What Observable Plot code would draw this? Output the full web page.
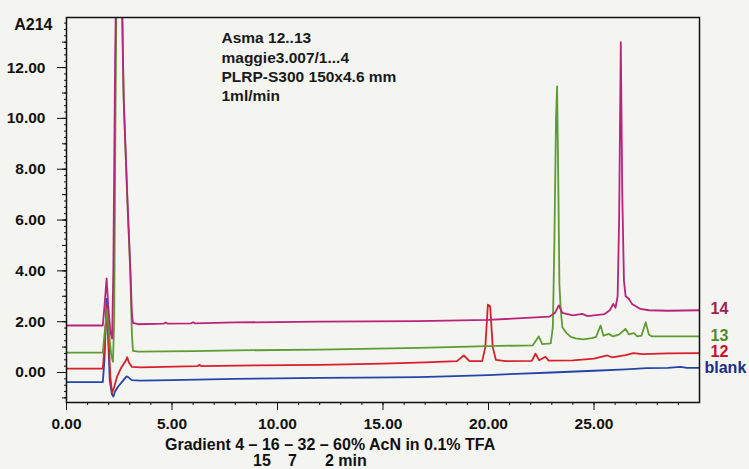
<!DOCTYPE html>
<html><head><meta charset="utf-8">
<script src="https://cdn.jsdelivr.net/npm/d3@7"></script>
<script src="https://cdn.jsdelivr.net/npm/@observablehq/plot@0.6"></script>
<style>
html,body{margin:0;padding:0;background:#f4f4f0;}
#wrap{width:749px;height:469px;position:relative;font-family:"Liberation Sans",Arial,sans-serif;font-weight:bold;color:#111;overflow:hidden;}
.cap{position:absolute;font-size:16px;line-height:15px;white-space:pre;}
#chart g[aria-label="x-axis tick label"], #chart g[aria-label="y-axis tick label"]{font-size:15.5px;font-weight:bold;}
</style></head><body>
<div id="wrap"><div id="chart"></div>
<div class="cap" style="left:165px;top:437px">Gradient 4 – 16 – 32 – 60% AcN in 0.1% TFA</div>
<div class="cap" style="left:253px;top:453px">15</div>
<div class="cap" style="left:288px;top:453px">7</div>
<div class="cap" style="left:325px;top:453px">2 min</div>
</div>
<script>
const names = ["blank", "12", "13", "14"];
const lineColors = ["#2444a8", "#d6202a", "#5e9c32", "#b8237c"];
const labelColors = ["#1a2d85", "#c8102e", "#4f8a2b", "#9e1f55"];
const yTicks = [0, 2, 4, 6, 8, 10, 12];
const xTicks = [0, 5, 10, 15, 20, 25];
const titleText = "A214";
const noteText = "Asma 12..13\nmaggie3.007/1...4\nPLRP-S300 150x4.6 mm\n1ml/min";

const blank = [[0,-0.38],[1.72,-0.38],[1.8,0.5],[1.9,2.9],[1.97,1.5],[2.05,-0.3],[2.15,-0.85],[2.22,-0.95],[2.3,-0.75],[2.45,-0.55],[2.65,-0.35],[2.85,-0.15],[2.95,-0.2],[3.1,-0.3],[3.5,-0.32],[5,-0.3],[8,-0.25],[10,-0.23],[12,-0.21],[14,-0.2],[16.7,-0.18],[18,-0.15],[20,-0.1],[21.3,-0.05],[23,0.0],[25,0.07],[26.5,0.12],[27.5,0.17],[28.5,0.18],[29.1,0.22],[29.4,0.18],[30,0.18]];
const s12 = [[0,0.15],[1.72,0.15],[1.8,1.0],[1.92,2.6],[2.0,1.2],[2.08,-0.2],[2.16,-0.8],[2.25,-0.6],[2.4,-0.15],[2.6,0.2],[2.8,0.45],[2.88,0.6],[2.95,0.4],[3.1,0.22],[3.5,0.2],[6.2,0.25],[6.3,0.3],[6.4,0.25],[9,0.28],[12,0.3],[15,0.35],[17,0.4],[18.5,0.45],[18.83,0.67],[19.1,0.45],[19.7,0.45],[19.85,1.0],[19.97,2.67],[20.08,2.6],[20.2,1.0],[20.35,0.5],[20.8,0.45],[22.05,0.46],[22.23,0.74],[22.4,0.48],[22.7,0.62],[22.85,0.47],[24,0.48],[25,0.55],[25.63,0.67],[25.85,0.6],[26.5,0.68],[26.87,0.76],[27.3,0.72],[28.5,0.75],[30,0.76]];
const s13 = [[0,0.78],[1.72,0.78],[1.8,1.5],[1.93,2.5],[2.02,1.5],[2.12,0.7],[2.2,0.42],[2.26,2],[2.32,10],[2.38,16],[2.62,16],[2.7,11],[2.88,6.8],[3.02,4.0],[3.1,1.5],[3.15,0.85],[3.4,0.82],[6,0.84],[8,0.87],[12,0.9],[16.7,0.97],[20,1.04],[22.1,1.07],[22.38,1.42],[22.55,1.12],[22.95,1.15],[23.05,1.8],[23.12,5],[23.2,10],[23.25,11.26],[23.3,8],[23.36,3.5],[23.42,2.5],[23.5,1.78],[23.7,1.55],[23.9,1.4],[24.13,1.34],[24.5,1.3],[24.9,1.35],[25.1,1.4],[25.31,1.85],[25.45,1.45],[25.7,1.52],[25.9,1.42],[26.2,1.5],[26.49,1.72],[26.65,1.5],[26.89,1.55],[27.05,1.42],[27.25,1.45],[27.45,1.98],[27.6,1.5],[27.75,1.42],[30,1.42]];
const s14 = [[0,1.85],[1.72,1.85],[1.8,2.6],[1.9,3.7],[1.98,2.6],[2.08,1.6],[2.16,1.34],[2.22,4],[2.3,12],[2.36,16],[2.6,16],[2.66,13],[2.72,10.5],[2.89,6.8],[3.03,4.0],[3.1,2.3],[3.15,1.95],[3.4,1.9],[4.6,1.92],[4.7,1.97],[4.8,1.92],[5.9,1.93],[6.0,1.98],[6.1,1.93],[8,1.97],[12,2.0],[16.7,2.02],[20,2.07],[22.9,2.2],[23.15,2.35],[23.33,2.64],[23.5,2.35],[24,2.25],[24.44,2.31],[24.7,2.22],[25.5,2.3],[25.75,2.45],[25.91,2.7],[26.02,2.55],[26.12,3.0],[26.19,6],[26.27,13.0],[26.34,7],[26.42,3.6],[26.5,3.0],[26.65,2.9],[26.8,2.7],[27.2,2.5],[27.6,2.45],[28.5,2.43],[30,2.45]];

const seriesData = [blank, s12, s13, s14];
const table = seriesData.flatMap((s, i) => s.map(([t, v]) => ({name: names[i], t, v})));
const labelColor = new Map(names.map((n, i) => [n, labelColors[i]]));
const fmt = d => d.toFixed(2);

const chart = Plot.plot({
  width: 749, height: 432,
  marginLeft: 66, marginTop: 17, marginRight: 50, marginBottom: 30,
  style: {fontFamily: '"Liberation Sans", Arial, sans-serif', fontSize: "15px", fontWeight: "bold", background: "#f4f4f0", color: "#111"},
  x: {domain: [0, 30]},
  y: {domain: [-1.18, 13.97]},
  color: {domain: names, range: lineColors},
  marks: [
    Plot.line(table, {x: "t", y: "v", z: "name", stroke: "name", strokeWidth: 1.8, clip: true}),
    Plot.axisX({ticks: d3.range(0, 30, 1), tickSize: 3, text: null, label: null}),
    Plot.axisX({ticks: xTicks, tickFormat: fmt, tickSize: 8, tickPadding: 7, fontSize: 15.5, label: null}),
    Plot.axisY({ticks: d3.range(-1, 14, 0.25), tickSize: 2, text: null, label: null}),
    Plot.axisY({ticks: d3.range(-1, 14, 1), tickSize: 4, text: null, label: null}),
    Plot.axisY({ticks: yTicks, tickFormat: fmt, tickSize: 9, tickPadding: 12, fontSize: 15.5, label: null}),
    Plot.frame({stroke: "#111", strokeWidth: 1.5}),
    Plot.text([titleText], {frameAnchor: "top-left", dx: -14, dy: 1, textAnchor: "end", fontSize: 16}),
    Plot.text([noteText], {frameAnchor: "top-left", dx: 155, dy: 12, lineAnchor: "top", textAnchor: "start", lineHeight: 1.25, fontSize: 15.5, fill: "#1a1a1a"}),
    Plot.text(table, Plot.selectLast({filter: d => d.name !== "blank", x: "t", y: "v", z: "name", text: "name", fill: d => labelColor.get(d.name), dx: 11, dy: -1, textAnchor: "start", fontSize: 16})),
    Plot.text(table, Plot.selectLast({filter: d => d.name === "blank", x: "t", y: "v", z: "name", text: "name", fill: d => labelColor.get(d.name), dx: 5, dy: 0, textAnchor: "start", fontSize: 16}))
  ]
});
document.getElementById("chart").appendChild(chart);
</script>
</body></html>
